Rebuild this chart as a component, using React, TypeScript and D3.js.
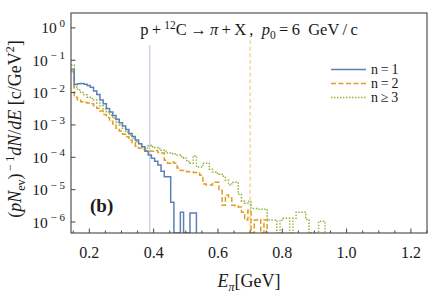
import React from 'react';
import * as d3 from 'd3';

// histogram: bin width 0.01 GeV starting at E0 (values in c/GeV^2, 0 = empty bin)
const E0 = 0.143;
const BIN = 0.01;

const n1 = [
  0.0519, 0.0178, 0.0186, 0.0191, 0.0182, 0.0166, 0.0145, 0.0112, 0.0087, 0.0059,
  0.0045, 0.0032, 0.0025, 0.00195, 0.0015, 0.00117, 0.00093, 0.00072, 0.00054, 0.00044,
  0.00034, 0.00026, 0.00021, 0.000155, 0.000117, 9.3e-5, 7.6e-5, 5.8e-5, 3.7e-5, 2.5e-5,
  2.5e-5, 4.1e-6, 0, 0, 2.0e-6, 0, 0, 1.9e-6, 1.9e-6,
];

const n2 = [
  0.0437, 0.0072, 0.0059, 0.0052, 0.0049, 0.0048, 0.0045, 0.0039, 0.0033, 0.0027,
  0.0021, 0.0017, 0.0013, 0.00107, 0.00079, 0.00065, 0.00052, 0.00043, 0.00034, 0.00028,
  0.00022, 0.00019, 0.000174, 0.000162, 0.000155, 0.000155, 0.000162, 0.000141, 0.000135, 8.1e-5,
  6.6e-5, 7.1e-5, 6.6e-5, 4.7e-5, 3.9e-5, 3.7e-5, 3.6e-5, 3.6e-5, 3.4e-5, 3.2e-5,
  2.8e-5, 1.5e-5, 1.4e-5, 1.4e-5, 1.7e-5, 1.7e-5, 9.5e-6, 3.3e-6, 6.8e-6, 5.5e-6,
  3.3e-6, 3.1e-6, 2.9e-6, 2.0e-6, 1.15e-6, 2.3e-6, 0, 1.15e-6, 1.2e-6, 0,
  1.15e-6,
];

const n3 = [
  0.071, 0.0148, 0.012, 0.010, 0.0085, 0.0072, 0.0066, 0.0059, 0.0048, 0.0039,
  0.0031, 0.0025, 0.0020, 0.0016, 0.00123, 0.0010, 0.00079, 0.0006, 0.00049, 0.00039,
  0.00031, 0.00026, 0.00021, 0.00019, 0.00023, 0.00021, 0.0002, 0.000186, 0.000166, 0.000151,
  0.000135, 0.000129, 0.000126, 0.000117, 0.000105, 9.3e-5, 7.4e-5, 6.6e-5, 0.000112, 5.0e-5,
  5.0e-5, 6.6e-5, 6.6e-5, 4.3e-5, 3.5e-5, 3.2e-5, 3.0e-5, 2.6e-5, 1.95e-5, 1.4e-5,
  1.7e-5, 1.7e-5, 7.2e-6, 4.4e-6, 3.8e-6, 4.4e-6, 2.6e-6, 2.6e-6, 2.5e-6, 2.5e-6,
  2.5e-6, 1.15e-6, 1.15e-6, 1.15e-6, 0, 1.15e-6, 1.3e-6, 1.3e-6, 0, 1.3e-6,
  2.0e-6, 2.0e-6, 2.0e-6, 1.2e-6, 0, 0, 0, 1.05e-6, 1.05e-6,
];

const T = '\u2009'; // thin space, Mathematica-like operator spacing

const series = [
  { label: `n${T}=${T}1`, values: n1, color: '#5E81B5', dash: 'none' },
  { label: `n${T}=${T}2`, values: n2, color: '#E19C24', dash: '5,2.5' },
  { label: `n${T}≥${T}3`, values: n3, color: '#8FB032', dash: '1.4,1.6' },
];

const xTicks = [0.2, 0.4, 0.6, 0.8, 1.0, 1.2];
const yExps = [0, -1, -2, -3, -4, -5, -6];

// reference lines (energy, upper end)
const refLines = [
  { E: 0.388, top: 10 ** -0.53, color: '#c3cde2', dash: 'none' },
  { E: 0.7, top: 10 ** -0.38, color: '#f3c98c', dash: '4,2.5' },
];

const W = 445;
const H = 304;
const m = { left: 71, right: 427, top: 13, bottom: 233 };
const serif = '"Liberation Serif", "DejaVu Serif", "Times New Roman", serif';
const frameColor = '#444';
const ink = '#1a1a1a';

export default function App() {
  const x = d3.scaleLinear().domain([0.143, 1.25]).range([m.left, m.right]);
  const y = d3.scaleLog().domain([10 ** -6.34, 10 ** 0.46]).range([m.bottom, m.top]);
  const yMin = y.domain()[0];

  const line = d3
    .line<[number, number]>()
    .x((d) => x(d[0]))
    .y((d) => y(Math.max(d[1], yMin)))
    .curve(d3.curveStepAfter);

  const pathFor = (vals: number[]) => {
    const pts: [number, number][] = vals.map((v, i) => [E0 + i * BIN, v]);
    pts.push([E0 + vals.length * BIN, 0]);
    return line(pts) || '';
  };

  const minorX = d3.range(0.15, 1.251, 0.05).filter((v) => !xTicks.some((t) => Math.abs(t - v) < 1e-6));

  return (
    <svg
      width={W}
      height={H}
      style={{ position: 'absolute', left: 0, top: 0, background: 'white', fontFamily: serif }}
    >
      <defs>
        <clipPath id="plot">
          <rect x={m.left} y={m.top} width={m.right - m.left} height={m.bottom - m.top} />
        </clipPath>
      </defs>

      {/* reference lines */}
      {refLines.map((r) => (
        <line
          key={r.E}
          x1={x(r.E)}
          x2={x(r.E)}
          y1={y(r.top)}
          y2={m.bottom}
          stroke={r.color}
          strokeWidth={1.2}
          strokeDasharray={r.dash}
        />
      ))}

      {/* histograms */}
      <g clipPath="url(#plot)" fill="none">
        {series
          .slice()
          .reverse()
          .map((s) => (
            <path
              key={s.label}
              d={pathFor(s.values)}
              stroke={s.color}
              strokeWidth={1.5}
              strokeDasharray={s.dash}
            />
          ))}
      </g>

      {/* frame */}
      <rect
        x={m.left}
        y={m.top}
        width={m.right - m.left}
        height={m.bottom - m.top}
        fill="none"
        stroke={frameColor}
        strokeWidth={1.1}
      />

      {/* x ticks */}
      {xTicks.map((t) => (
        <g key={t}>
          <line x1={x(t)} x2={x(t)} y1={m.bottom} y2={m.bottom - 4.5} stroke={frameColor} />
          <text x={x(t)} y={258} textAnchor="middle" fontSize={16} fill={ink}>
            {t.toFixed(1)}
          </text>
        </g>
      ))}
      {minorX.map((t) => (
        <line key={t} x1={x(t)} x2={x(t)} y1={m.bottom} y2={m.bottom - 2.5} stroke={frameColor} />
      ))}

      {/* y ticks */}
      {yExps.map((e) => (
        <g key={e}>
          <line x1={m.left} x2={m.left + 4.5} y1={y(10 ** e)} y2={y(10 ** e)} stroke={frameColor} />
          <text x={65} y={y(10 ** e) + 5.5} textAnchor="end" fontSize={15.5} fill={ink} style={{ whiteSpace: 'pre' }}>
            <tspan>10</tspan>
            <tspan dy={-6.5} fontSize={11}>
              {e === 0 ? ' 0' : ' − ' + Math.abs(e)}
            </tspan>
          </text>
        </g>
      ))}

      {/* title */}
      <text x={(m.left + m.right) / 2} y={35} textAnchor="middle" fontSize={16.5} fill={ink} style={{ whiteSpace: 'pre' }}>
        <tspan>{`p${T}+${T}`}</tspan>
        <tspan dy={-6} fontSize={11.5}>12</tspan>
        <tspan dy={6}>{`C${T}→${T}`}</tspan>
        <tspan fontStyle="italic">π</tspan>
        <tspan>{`${T}+${T}X${T},  `}</tspan>
        <tspan fontStyle="italic">p</tspan>
        <tspan dy={3.5} fontSize={11.5}>0</tspan>
        <tspan dy={-3.5}>{`${T}=${T}6  GeV${T}/${T}c`}</tspan>
      </text>

      {/* legend */}
      {series.map((s, i) => {
        const ly = 69.5 + i * 14;
        return (
          <g key={s.label}>
            <line x1={331} x2={366} y1={ly} y2={ly} stroke={s.color} strokeWidth={1.5} strokeDasharray={s.dash} />
            <text x={371} y={ly + 4.5} fontSize={14} fill={ink}>
              {s.label}
            </text>
          </g>
        );
      })}

      {/* panel label */}
      <text x={90} y={212} fontSize={19} fontWeight="bold" fill={ink}>
        (b)
      </text>

      {/* x axis label */}
      <text x={(m.left + m.right) / 2} y={287} textAnchor="middle" fontSize={18} fill={ink}>
        <tspan fontStyle="italic">E</tspan>
        <tspan dy={3.5} fontSize={12} fontStyle="italic">π</tspan>
        <tspan dy={-3.5}>[GeV]</tspan>
      </text>

      {/* y axis label */}
      <text
        transform={`translate(21,${(m.top + m.bottom) / 2 + 6}) rotate(-90)`}
        textAnchor="middle"
        fontSize={18}
        fill={ink}
        style={{ whiteSpace: 'pre' }}
      >
        <tspan>(</tspan>
        <tspan fontStyle="italic">pN</tspan>
        <tspan dy={3.5} fontSize={12}>ev</tspan>
        <tspan dy={-3.5}>)</tspan>
        <tspan dy={-7} fontSize={12}>{`${T}−${T}1`}</tspan>
        <tspan dy={7} fontStyle="italic">dN</tspan>
        <tspan>/</tspan>
        <tspan fontStyle="italic">dE</tspan>
        <tspan> [c/GeV</tspan>
        <tspan dy={-7} fontSize={12}>2</tspan>
        <tspan dy={7}>]</tspan>
      </text>
    </svg>
  );
}
